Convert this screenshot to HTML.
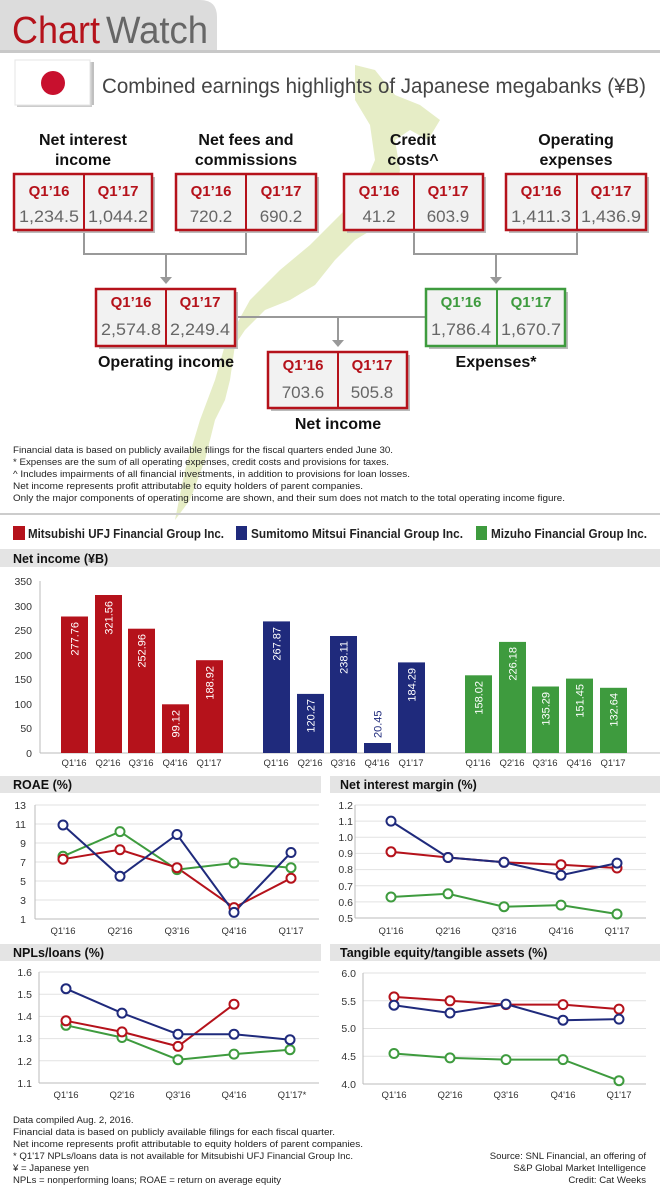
<!DOCTYPE html>
<html><head><meta charset="utf-8"><style>
html,body{margin:0;padding:0;background:#fff}
svg{display:block}
text{font-family:"Liberation Sans",sans-serif}
.q{fill:#b5121b;font-weight:bold;font-size:15px;text-anchor:middle}
.v{fill:#666;font-size:17px;text-anchor:middle}
.h{fill:#111;font-weight:bold;font-size:16px;text-anchor:middle}
.n{fill:#222;font-size:9.6px}
.t{fill:#333;font-size:10.5px}
.tx{fill:#333;font-size:9.5px;text-anchor:middle}
.bl{fill:#fff;font-size:11px}
.sh{fill:#111;font-weight:bold;font-size:12.5px}
.g{stroke:#e2e2e2;stroke-width:1}
</style></head><body>
<svg width="660" height="1194" viewBox="0 0 660 1194" xmlns="http://www.w3.org/2000/svg">
<path d="M0 0 H200 Q217 0 217 17 V50 H0 Z" fill="#dcdcdc"/>
<rect x="0" y="50" width="660" height="3" fill="#c8c8c8"/>
<text x="12" y="43" font-size="38" fill="#b5121b" textLength="88" lengthAdjust="spacingAndGlyphs">Chart</text>
<text x="106" y="43" font-size="38" fill="#666" textLength="102" lengthAdjust="spacingAndGlyphs">Watch</text>
<path d="M355 65 L375 70 L395 95 L420 105 L440 120 L428 140 L410 130 L395 140 L400 170 L395 200 L380 225 L355 240 L335 260 L315 285 L290 300 L265 310 L245 330 L235 345 L230 380 L225 400 L215 420 L205 460 L190 500 L175 520 L185 470 L200 420 L215 380 L225 345 L250 300 L280 270 L310 245 L335 220 L360 195 L375 160 L370 125 L355 100 Z" fill="#e6edc6"/>
<rect x="17" y="62" width="75" height="45" fill="#ccc"/>
<rect x="15" y="60" width="75" height="45" fill="#fff" stroke="#e5e5e5"/>
<circle cx="53" cy="83" r="12" fill="#c8102e"/>
<line x1="93" y1="62" x2="93" y2="105" stroke="#aaa" stroke-width="1.5"/>
<text x="102" y="93" font-size="21" fill="#444" textLength="544" lengthAdjust="spacingAndGlyphs">Combined earnings highlights of Japanese megabanks (¥B)</text>
<text class="h" x="83" y="145">Net interest</text><text class="h" x="83" y="165">income</text>
<text class="h" x="246" y="145">Net fees and</text><text class="h" x="246" y="165">commissions</text>
<text class="h" x="413" y="145">Credit</text><text class="h" x="413" y="165">costs^</text>
<text class="h" x="576" y="145">Operating</text><text class="h" x="576" y="165">expenses</text>
<g stroke="#999" stroke-width="2" fill="none">
<path d="M84 230 V254 H246 V230"/><path d="M166 254 V278"/>
<path d="M414 230 V254 H577 V230"/><path d="M496 254 V278"/>
<path d="M235 317 H426"/><path d="M338 317 V341"/>
</g>
<g fill="#999"><path d="M160 277 L172 277 L166 284Z"/><path d="M490 277 L502 277 L496 284Z"/><path d="M332 340 L344 340 L338 347Z"/></g>
<g>
<rect x="17" y="177" width="138" height="56" fill="#bbb"/>
<rect x="14" y="174" width="138" height="56" fill="#f2f2f2" stroke="#b5121b" stroke-width="2.5"/>
<line x1="84" y1="174" x2="84" y2="230" stroke="#b5121b" stroke-width="2"/>
<text class="q" x="49" y="196">Q1’16</text><text class="q" x="118" y="196">Q1’17</text>
<text class="v" x="49" y="222" textLength="60" lengthAdjust="spacingAndGlyphs">1,234.5</text><text class="v" x="118" y="222" textLength="60" lengthAdjust="spacingAndGlyphs">1,044.2</text>
<rect x="179" y="177" width="140" height="56" fill="#bbb"/>
<rect x="176" y="174" width="140" height="56" fill="#f2f2f2" stroke="#b5121b" stroke-width="2.5"/>
<line x1="246" y1="174" x2="246" y2="230" stroke="#b5121b" stroke-width="2"/>
<text class="q" x="211" y="196">Q1’16</text><text class="q" x="281" y="196">Q1’17</text>
<text class="v" x="211" y="222">720.2</text><text class="v" x="281" y="222">690.2</text>
<rect x="347" y="177" width="139" height="56" fill="#bbb"/>
<rect x="344" y="174" width="139" height="56" fill="#f2f2f2" stroke="#b5121b" stroke-width="2.5"/>
<line x1="414" y1="174" x2="414" y2="230" stroke="#b5121b" stroke-width="2"/>
<text class="q" x="379" y="196">Q1’16</text><text class="q" x="448" y="196">Q1’17</text>
<text class="v" x="379" y="222">41.2</text><text class="v" x="448" y="222">603.9</text>
<rect x="509" y="177" width="140" height="56" fill="#bbb"/>
<rect x="506" y="174" width="140" height="56" fill="#f2f2f2" stroke="#b5121b" stroke-width="2.5"/>
<line x1="577" y1="174" x2="577" y2="230" stroke="#b5121b" stroke-width="2"/>
<text class="q" x="541" y="196">Q1’16</text><text class="q" x="611" y="196">Q1’17</text>
<text class="v" x="541" y="222" textLength="60" lengthAdjust="spacingAndGlyphs">1,411.3</text><text class="v" x="611" y="222" textLength="60" lengthAdjust="spacingAndGlyphs">1,436.9</text>
<rect x="99" y="292" width="139" height="57" fill="#bbb"/>
<rect x="96" y="289" width="139" height="57" fill="#f2f2f2" stroke="#b5121b" stroke-width="2.5"/>
<line x1="166" y1="289" x2="166" y2="346" stroke="#b5121b" stroke-width="2"/>
<text class="q" x="131" y="307">Q1’16</text><text class="q" x="200" y="307">Q1’17</text>
<text class="v" x="131" y="335" textLength="60" lengthAdjust="spacingAndGlyphs">2,574.8</text><text class="v" x="200" y="335" textLength="60" lengthAdjust="spacingAndGlyphs">2,249.4</text>
<rect x="429" y="292" width="139" height="57" fill="#bbb"/>
<rect x="426" y="289" width="139" height="57" fill="#f2f2f2" stroke="#3e9b3e" stroke-width="2.5"/>
<line x1="497" y1="289" x2="497" y2="346" stroke="#3e9b3e" stroke-width="2"/>
<text class="q" x="461" y="307" style="fill:#3e9b3e">Q1’16</text><text class="q" x="531" y="307" style="fill:#3e9b3e">Q1’17</text>
<text class="v" x="461" y="335" textLength="60" lengthAdjust="spacingAndGlyphs">1,786.4</text><text class="v" x="531" y="335" textLength="60" lengthAdjust="spacingAndGlyphs">1,670.7</text>
<rect x="271" y="355" width="139" height="56" fill="#bbb"/>
<rect x="268" y="352" width="139" height="56" fill="#f2f2f2" stroke="#b5121b" stroke-width="2.5"/>
<line x1="338" y1="352" x2="338" y2="408" stroke="#b5121b" stroke-width="2"/>
<text class="q" x="303" y="370">Q1’16</text><text class="q" x="372" y="370">Q1’17</text>
<text class="v" x="303" y="398">703.6</text><text class="v" x="372" y="398">505.8</text>
</g>
<text class="h" x="166" y="367">Operating income</text>
<text class="h" x="496" y="367">Expenses*</text>
<text class="h" x="338" y="429">Net income</text>
<text class="n" x="13" y="453" textLength="380" lengthAdjust="spacingAndGlyphs">Financial data is based on publicly available filings for the fiscal quarters ended June 30.</text>
<text class="n" x="13" y="465" textLength="376" lengthAdjust="spacingAndGlyphs">* Expenses are the sum of all operating expenses, credit costs and provisions for taxes.</text>
<text class="n" x="13" y="477" textLength="397" lengthAdjust="spacingAndGlyphs">^ Includes impairments of all financial investments, in addition to provisions for loan losses.</text>
<text class="n" x="13" y="489" textLength="350" lengthAdjust="spacingAndGlyphs">Net income represents profit attributable to equity holders of parent companies.</text>
<text class="n" x="13" y="501" textLength="552" lengthAdjust="spacingAndGlyphs">Only the major components of operating income are shown, and their sum does not match to the total operating income figure.</text>
<rect x="0" y="513" width="660" height="2" fill="#ccc"/>
<rect x="13" y="526" width="12" height="14" fill="#b5121b"/>
<text x="28" y="538" font-size="13" font-weight="bold" fill="#222" textLength="196" lengthAdjust="spacingAndGlyphs">Mitsubishi UFJ Financial Group Inc.</text>
<rect x="236" y="526" width="11" height="14" fill="#1f2a7c"/>
<text x="251" y="538" font-size="13" font-weight="bold" fill="#222" textLength="212" lengthAdjust="spacingAndGlyphs">Sumitomo Mitsui Financial Group Inc.</text>
<rect x="476" y="526" width="11" height="14" fill="#3e9b3e"/>
<text x="491" y="538" font-size="13" font-weight="bold" fill="#222" textLength="156" lengthAdjust="spacingAndGlyphs">Mizuho Financial Group Inc.</text>
<rect x="0" y="549" width="660" height="18" fill="#e4e4e4"/>
<text class="sh" x="13" y="563">Net income (¥B)</text>
<g class="t" text-anchor="end">
<text x="32" y="757">0</text><text x="32" y="732">50</text><text x="32" y="708">100</text><text x="32" y="683">150</text><text x="32" y="659">200</text><text x="32" y="634">250</text><text x="32" y="610">300</text><text x="32" y="585">350</text>
</g>
<line x1="40" y1="581" x2="40" y2="753" stroke="#bbb"/>
<line x1="40" y1="753" x2="660" y2="753" stroke="#bbb"/>
<g fill="#b5121b">
<rect x="61" y="616.5" width="27" height="136.5"/><rect x="95" y="595" width="27" height="158"/><rect x="128" y="628.7" width="27" height="124.3"/><rect x="162" y="704.3" width="27" height="48.7"/><rect x="196" y="660.2" width="27" height="92.8"/>
</g>
<g fill="#1f2a7c">
<rect x="263" y="621.4" width="27" height="131.6"/><rect x="297" y="693.9" width="27" height="59.1"/><rect x="330" y="636" width="27" height="117"/><rect x="364" y="743" width="27" height="10"/><rect x="398" y="662.4" width="27" height="90.6"/>
</g>
<g fill="#3e9b3e">
<rect x="465" y="675.3" width="27" height="77.7"/><rect x="499" y="641.9" width="27" height="111.1"/><rect x="532" y="686.5" width="27" height="66.5"/><rect x="566" y="678.6" width="27" height="74.4"/><rect x="600" y="687.8" width="27" height="65.2"/>
</g>
<g class="bl" text-anchor="end">
<text transform="translate(78.5,622) rotate(-90)">277.76</text>
<text transform="translate(112.5,601) rotate(-90)">321.56</text>
<text transform="translate(145.5,634) rotate(-90)">252.96</text>
<text transform="translate(179.5,710) rotate(-90)">99.12</text>
<text transform="translate(213.5,666) rotate(-90)">188.92</text>
<text transform="translate(280.5,627) rotate(-90)">267.87</text>
<text transform="translate(314.5,699) rotate(-90)">120.27</text>
<text transform="translate(347.5,641) rotate(-90)">238.11</text>
<text transform="translate(415.5,668) rotate(-90)">184.29</text>
<text transform="translate(482.5,681) rotate(-90)">158.02</text>
<text transform="translate(516.5,647) rotate(-90)">226.18</text>
<text transform="translate(549.5,692) rotate(-90)">135.29</text>
<text transform="translate(583.5,684) rotate(-90)">151.45</text>
<text transform="translate(617.5,693) rotate(-90)">132.64</text>
</g>
<text class="bl" text-anchor="start" style="fill:#1f2a7c" transform="translate(381.5,738) rotate(-90)">20.45</text>
<g class="tx">
<text x="74" y="766">Q1'16</text><text x="108" y="766">Q2'16</text><text x="141" y="766">Q3'16</text><text x="175" y="766">Q4'16</text><text x="209" y="766">Q1'17</text>
<text x="276" y="766">Q1'16</text><text x="310" y="766">Q2'16</text><text x="343" y="766">Q3'16</text><text x="377" y="766">Q4'16</text><text x="411" y="766">Q1'17</text>
<text x="478" y="766">Q1'16</text><text x="512" y="766">Q2'16</text><text x="545" y="766">Q3'16</text><text x="579" y="766">Q4'16</text><text x="613" y="766">Q1'17</text>
</g>
<rect x="0" y="776" width="321" height="17" fill="#e4e4e4"/>
<text class="sh" x="13" y="789">ROAE (%)</text>
<g class="g"><line x1="35" y1="805" x2="319" y2="805"/><line x1="35" y1="824" x2="319" y2="824"/><line x1="35" y1="843" x2="319" y2="843"/><line x1="35" y1="862" x2="319" y2="862"/><line x1="35" y1="881" x2="319" y2="881"/><line x1="35" y1="900" x2="319" y2="900"/></g>
<line x1="35" y1="805" x2="35" y2="919" stroke="#bbb"/><line x1="35" y1="919" x2="319" y2="919" stroke="#bbb"/>
<g class="t" text-anchor="end"><text x="26" y="809">13</text><text x="26" y="828">11</text><text x="26" y="847">9</text><text x="26" y="866">7</text><text x="26" y="885">5</text><text x="26" y="904">3</text><text x="26" y="923">1</text></g>
<g class="tx"><text x="63" y="934">Q1'16</text><text x="120" y="934">Q2'16</text><text x="177" y="934">Q3'16</text><text x="234" y="934">Q4'16</text><text x="291" y="934">Q1'17</text></g>
<g fill="none" stroke-width="2">
<polyline stroke="#3e9b3e" points="63,856.3 120,831.6 177,869.6 234,863 291,867.7"/>
<polyline stroke="#b5121b" points="63,859.2 120,849.7 177,867.7 234,907.6 291,878.2"/>
<polyline stroke="#1f2a7c" points="63,825 120,876.3 177,834.5 234,912.4 291,852.5"/>
</g>
<g fill="#fff" stroke-width="2">
<g stroke="#3e9b3e"><circle cx="63" cy="856.3" r="4.5"/><circle cx="120" cy="831.6" r="4.5"/><circle cx="177" cy="869.6" r="4.5"/><circle cx="234" cy="863" r="4.5"/><circle cx="291" cy="867.7" r="4.5"/></g>
<g stroke="#b5121b"><circle cx="63" cy="859.2" r="4.5"/><circle cx="120" cy="849.7" r="4.5"/><circle cx="177" cy="867.7" r="4.5"/><circle cx="234" cy="907.6" r="4.5"/><circle cx="291" cy="878.2" r="4.5"/></g>
<g stroke="#1f2a7c"><circle cx="63" cy="825" r="4.5"/><circle cx="120" cy="876.3" r="4.5"/><circle cx="177" cy="834.5" r="4.5"/><circle cx="234" cy="912.4" r="4.5"/><circle cx="291" cy="852.5" r="4.5"/></g>
</g>
<rect x="330" y="776" width="330" height="17" fill="#e4e4e4"/>
<text class="sh" x="340" y="789">Net interest margin (%)</text>
<g class="g"><line x1="355" y1="805" x2="646" y2="805"/><line x1="355" y1="821.1" x2="646" y2="821.1"/><line x1="355" y1="837.3" x2="646" y2="837.3"/><line x1="355" y1="853.4" x2="646" y2="853.4"/><line x1="355" y1="869.6" x2="646" y2="869.6"/><line x1="355" y1="885.7" x2="646" y2="885.7"/><line x1="355" y1="901.9" x2="646" y2="901.9"/></g>
<line x1="355" y1="805" x2="355" y2="918" stroke="#bbb"/><line x1="355" y1="918" x2="646" y2="918" stroke="#bbb"/>
<g class="t" text-anchor="end"><text x="353" y="809">1.2</text><text x="353" y="825">1.1</text><text x="353" y="841">1.0</text><text x="353" y="857">0.9</text><text x="353" y="873">0.8</text><text x="353" y="890">0.7</text><text x="353" y="906">0.6</text><text x="353" y="922">0.5</text></g>
<g class="tx"><text x="391" y="934">Q1'16</text><text x="448" y="934">Q2'16</text><text x="504" y="934">Q3'16</text><text x="561" y="934">Q4'16</text><text x="617" y="934">Q1'17</text></g>
<g fill="none" stroke-width="2">
<polyline stroke="#3e9b3e" points="391,897 448,893.8 504,906.7 561,905.1 617,914"/>
<polyline stroke="#b5121b" points="391,851.8 448,857.5 504,862.3 561,864.7 617,868"/>
<polyline stroke="#1f2a7c" points="391,821.1 448,857.5 504,862.3 561,875.2 617,863.1"/>
</g>
<g fill="#fff" stroke-width="2">
<g stroke="#3e9b3e"><circle cx="391" cy="897" r="4.5"/><circle cx="448" cy="893.8" r="4.5"/><circle cx="504" cy="906.7" r="4.5"/><circle cx="561" cy="905.1" r="4.5"/><circle cx="617" cy="914" r="4.5"/></g>
<g stroke="#b5121b"><circle cx="391" cy="851.8" r="4.5"/><circle cx="448" cy="857.5" r="4.5"/><circle cx="504" cy="862.3" r="4.5"/><circle cx="561" cy="864.7" r="4.5"/><circle cx="617" cy="868" r="4.5"/></g>
<g stroke="#1f2a7c"><circle cx="391" cy="821.1" r="4.5"/><circle cx="448" cy="857.5" r="4.5"/><circle cx="504" cy="862.3" r="4.5"/><circle cx="561" cy="875.2" r="4.5"/><circle cx="617" cy="863.1" r="4.5"/></g>
</g>
<rect x="0" y="944" width="321" height="17" fill="#e4e4e4"/>
<text class="sh" x="13" y="957">NPLs/loans (%)</text>
<g class="g"><line x1="39" y1="972" x2="319" y2="972"/><line x1="39" y1="994.2" x2="319" y2="994.2"/><line x1="39" y1="1016.4" x2="319" y2="1016.4"/><line x1="39" y1="1038.6" x2="319" y2="1038.6"/><line x1="39" y1="1060.8" x2="319" y2="1060.8"/></g>
<line x1="39" y1="972" x2="39" y2="1083" stroke="#bbb"/><line x1="39" y1="1083" x2="319" y2="1083" stroke="#bbb"/>
<g class="t" text-anchor="end"><text x="32" y="976">1.6</text><text x="32" y="998">1.5</text><text x="32" y="1020">1.4</text><text x="32" y="1042">1.3</text><text x="32" y="1065">1.2</text><text x="32" y="1087">1.1</text></g>
<g class="tx"><text x="66" y="1098">Q1'16</text><text x="122" y="1098">Q2'16</text><text x="178" y="1098">Q3'16</text><text x="234" y="1098">Q4'16</text><text x="292" y="1098">Q1'17*</text></g>
<g fill="none" stroke-width="2">
<polyline stroke="#3e9b3e" points="66,1025.3 122,1037.5 178,1059.7 234,1054.1 290,1049.7"/>
<polyline stroke="#b5121b" points="66,1020.8 122,1031.9 178,1046.4 234,1004.2"/>
<polyline stroke="#1f2a7c" points="66,988.7 122,1013.1 178,1034.2 234,1034.2 290,1039.7"/>
</g>
<g fill="#fff" stroke-width="2">
<g stroke="#3e9b3e"><circle cx="66" cy="1025.3" r="4.5"/><circle cx="122" cy="1037.5" r="4.5"/><circle cx="178" cy="1059.7" r="4.5"/><circle cx="234" cy="1054.1" r="4.5"/><circle cx="290" cy="1049.7" r="4.5"/></g>
<g stroke="#b5121b"><circle cx="66" cy="1020.8" r="4.5"/><circle cx="122" cy="1031.9" r="4.5"/><circle cx="178" cy="1046.4" r="4.5"/><circle cx="234" cy="1004.2" r="4.5"/></g>
<g stroke="#1f2a7c"><circle cx="66" cy="988.7" r="4.5"/><circle cx="122" cy="1013.1" r="4.5"/><circle cx="178" cy="1034.2" r="4.5"/><circle cx="234" cy="1034.2" r="4.5"/><circle cx="290" cy="1039.7" r="4.5"/></g>
</g>
<rect x="330" y="944" width="330" height="17" fill="#e4e4e4"/>
<text class="sh" x="340" y="957">Tangible equity/tangible assets (%)</text>
<g class="g"><line x1="363" y1="973" x2="646" y2="973"/><line x1="363" y1="1000.8" x2="646" y2="1000.8"/><line x1="363" y1="1028.5" x2="646" y2="1028.5"/><line x1="363" y1="1056.3" x2="646" y2="1056.3"/></g>
<line x1="363" y1="973" x2="363" y2="1084" stroke="#bbb"/><line x1="363" y1="1084" x2="646" y2="1084" stroke="#bbb"/>
<g class="t" text-anchor="end"><text x="356" y="977">6.0</text><text x="356" y="1005">5.5</text><text x="356" y="1032">5.0</text><text x="356" y="1060">4.5</text><text x="356" y="1088">4.0</text></g>
<g class="tx"><text x="394" y="1098">Q1'16</text><text x="450" y="1098">Q2'16</text><text x="506" y="1098">Q3'16</text><text x="563" y="1098">Q4'16</text><text x="619" y="1098">Q1'17</text></g>
<g fill="none" stroke-width="2">
<polyline stroke="#3e9b3e" points="394,1053.5 450,1057.9 506,1059.6 563,1059.6 619,1080.7"/>
<polyline stroke="#b5121b" points="394,996.9 450,1000.8 506,1004.6 563,1004.6 619,1009.1"/>
<polyline stroke="#1f2a7c" points="394,1005.2 450,1013 506,1004.1 563,1020.2 619,1019.1"/>
</g>
<g fill="#fff" stroke-width="2">
<g stroke="#3e9b3e"><circle cx="394" cy="1053.5" r="4.5"/><circle cx="450" cy="1057.9" r="4.5"/><circle cx="506" cy="1059.6" r="4.5"/><circle cx="563" cy="1059.6" r="4.5"/><circle cx="619" cy="1080.7" r="4.5"/></g>
<g stroke="#b5121b"><circle cx="394" cy="996.9" r="4.5"/><circle cx="450" cy="1000.8" r="4.5"/><circle cx="506" cy="1004.6" r="4.5"/><circle cx="563" cy="1004.6" r="4.5"/><circle cx="619" cy="1009.1" r="4.5"/></g>
<g stroke="#1f2a7c"><circle cx="394" cy="1005.2" r="4.5"/><circle cx="450" cy="1013" r="4.5"/><circle cx="506" cy="1004.1" r="4.5"/><circle cx="563" cy="1020.2" r="4.5"/><circle cx="619" cy="1019.1" r="4.5"/></g>
</g>
<g class="n">
<text x="13" y="1123">Data compiled Aug. 2, 2016.</text>
<text x="13" y="1135" textLength="322" lengthAdjust="spacingAndGlyphs">Financial data is based on publicly available filings for each fiscal quarter.</text>
<text x="13" y="1147" textLength="350" lengthAdjust="spacingAndGlyphs">Net income represents profit attributable to equity holders of parent companies.</text>
<text x="13" y="1159" textLength="340" lengthAdjust="spacingAndGlyphs">* Q1'17 NPLs/loans data is not available for Mitsubishi UFJ Financial Group Inc.</text>
<text x="13" y="1171">¥ = Japanese yen</text>
<text x="13" y="1183" textLength="268" lengthAdjust="spacingAndGlyphs">NPLs = nonperforming loans; ROAE = return on average equity</text>
<text x="646" y="1159" text-anchor="end">Source: SNL Financial, an offering of</text>
<text x="646" y="1171" text-anchor="end">S&amp;P Global Market Intelligence</text>
<text x="646" y="1183" text-anchor="end">Credit: Cat Weeks</text>
</g>
</svg>
</body></html>
